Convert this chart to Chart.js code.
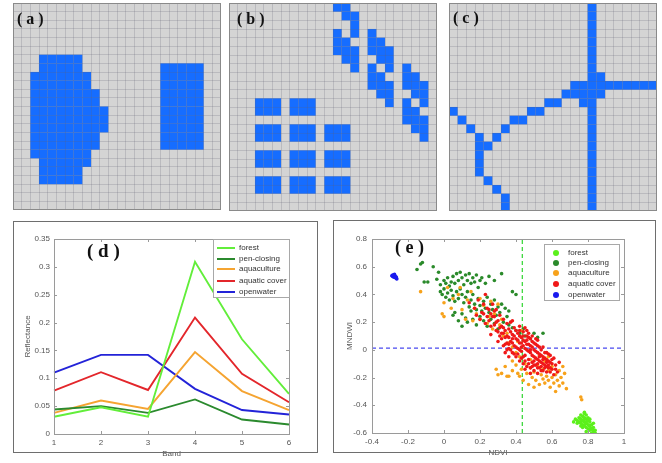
<!DOCTYPE html>
<html>
<head>
<meta charset="utf-8">
<script src="https://cdn.jsdelivr.net/npm/chart.js@4.4.1/dist/chart.umd.min.js"></script>
<style>
  html, body { margin: 0; padding: 0; background: #ffffff; }
  body { width: 662px; height: 463px; position: relative; overflow: hidden; font-family: "Liberation Sans", Arial, sans-serif; }
  canvas { position: absolute; }
  .frame { position: absolute; box-sizing: border-box; border: 1px solid #8a8a8a; pointer-events: none; }
  .outer { position: absolute; box-sizing: border-box; border: 1.5px solid #6e6e6e; pointer-events: none; }
  .plabel { position: absolute; font-family: "Liberation Serif", "Times New Roman", serif; font-weight: bold; color: #111; white-space: pre; line-height: 1; }
  .legend { position: absolute; box-sizing: border-box; border: 1px solid #a8a8a8; background: #fff; }
  .legend .item { position: absolute; font-size: 8px; color: #333; line-height: 8px; white-space: nowrap; }
  .legend .swatch { position: absolute; }
</style>
</head>
<body>
<canvas id="ca" width="208" height="207" style="left:13px;top:3px"></canvas>
<canvas id="cb" width="208" height="208" style="left:229px;top:3px"></canvas>
<canvas id="cc" width="208" height="208" style="left:449px;top:3px"></canvas>
<div class="frame" style="left:13px;top:3px;width:208px;height:207px"></div>
<div class="frame" style="left:229px;top:3px;width:208px;height:208px"></div>
<div class="frame" style="left:449px;top:3px;width:208px;height:208px"></div>
<div class="plabel" style="left:17px;top:11px;font-size:16px">( a )</div>
<div class="plabel" style="left:237px;top:11px;font-size:16px">( b )</div>
<div class="plabel" style="left:453px;top:10px;font-size:16px">( c )</div>

<canvas id="cd" width="304" height="242" style="left:13px;top:221px"></canvas>
<div class="outer" style="left:13px;top:221px;width:305px;height:232px"></div>
<div class="plabel" style="left:87px;top:241px;font-size:19px">( d )</div>
<div class="legend" id="legD" style="left:213px;top:239px;width:77px;height:59px"></div>

<canvas id="ce" width="322" height="243" style="left:333px;top:220px"></canvas>
<div class="outer" style="left:333px;top:220px;width:323px;height:233px"></div>
<div class="plabel" style="left:395px;top:238px;font-size:18px">( e )</div>
<div class="legend" id="legE" style="left:544px;top:244px;width:76px;height:57px"></div>

<script>
// ---------------- DATA ----------------
const GRID_N = 24;
const CELL_BLUE = '#166dff';

// panel (a): [row, firstCol, lastCol]
const panelA = [
  [6,3,7],[7,3,7],[8,2,8],[9,2,8],[10,2,9],[11,2,9],[12,2,10],[13,2,10],[14,2,10],
  [15,2,9],[16,2,9],[17,2,8],[18,3,8],[19,3,7],[20,3,7],
  [7,17,21],[8,17,21],[9,17,21],[10,17,21],[11,17,21],[12,17,21],[13,17,21],[14,17,21],[15,17,21],[16,17,21]
];

// panel (b): [row, firstCol, lastCol]
const panelB = [
  [0,12,13],[1,13,14],[2,14,14],[3,12,12],[3,14,14],[4,12,13],[5,12,14],[6,13,14],[7,14,14],
  [3,16,16],[4,16,17],[5,16,18],[6,17,18],[7,16,16],[7,18,18],[8,16,17],[9,16,18],[10,17,18],[11,18,18],
  [7,20,20],[8,20,21],[9,20,22],[10,21,22],[11,20,20],[11,22,22],[12,20,21],[13,20,22],[14,21,22],[15,22,22],
  [11,3,5],[12,3,5],[11,7,9],[12,7,9],
  [14,3,5],[15,3,5],[14,7,9],[15,7,9],[14,11,13],[15,11,13],
  [17,3,5],[18,3,5],[17,7,9],[18,7,9],[17,11,13],[18,11,13],
  [20,3,5],[21,3,5],[20,7,9],[21,7,9],[20,11,13],[21,11,13]
];

// panel (c): [row, firstCol, lastCol]
const panelC = [
  [0,16,16],[1,16,16],[2,16,16],[3,16,16],[4,16,16],[5,16,16],[6,16,16],[7,16,16],
  [8,16,17],[9,14,23],[10,13,17],[11,11,12],[11,15,16],
  [12,0,0],[12,9,10],[12,16,16],[13,1,1],[13,7,8],[13,16,16],[14,2,2],[14,6,6],[14,16,16],
  [15,3,3],[15,5,5],[15,16,16],[16,3,4],[16,16,16],[17,3,3],[17,16,16],[18,3,3],[18,16,16],
  [19,3,3],[19,16,16],[20,4,4],[20,16,16],[21,5,5],[21,16,16],[22,6,6],[22,16,16],[23,6,6],[23,16,16]
];

// panel (d)
const bands = ['1','2','3','4','5','6'];
const forestRefl      = [0.031, 0.048, 0.031, 0.309, 0.170, 0.072];
const penClosingRefl  = [0.044, 0.050, 0.038, 0.062, 0.026, 0.017];
const aquacultureRefl = [0.038, 0.060, 0.045, 0.147, 0.077, 0.043];
const aquaticRefl     = [0.078, 0.111, 0.079, 0.209, 0.108, 0.057];
const openwaterRefl   = [0.110, 0.142, 0.142, 0.081, 0.043, 0.035];
const classNames = ['forest','pen-closing','aquaculture','aquatic cover','openwater'];
const lineColors = ['#62ee3a','#2b8a2e','#f5a431','#e3262b','#2323d8'];
const dotColors  = ['#5cf01c','#2a8a2a','#f7a21b','#f01818','#1a1aee'];

// panel (e): [NDVI, MNDWI]
const forestPts = [
  [0.73,-0.50],[0.74,-0.51],[0.75,-0.49],[0.75,-0.52],[0.76,-0.50],[0.76,-0.53],[0.77,-0.48],[0.77,-0.51],
  [0.77,-0.54],[0.78,-0.46],[0.78,-0.49],[0.78,-0.52],[0.78,-0.55],[0.79,-0.47],[0.79,-0.50],[0.79,-0.53],
  [0.79,-0.56],[0.80,-0.51],[0.80,-0.54],[0.80,-0.57],[0.81,-0.52],[0.81,-0.55],[0.81,-0.58],[0.82,-0.54],
  [0.82,-0.57],[0.83,-0.56],[0.83,-0.59],[0.84,-0.58],[0.76,-0.47],[0.78,-0.45],[0.74,-0.53],[0.72,-0.52],
  [0.80,-0.49],[0.82,-0.60],[0.84,-0.60],[0.77,-0.56],[0.79,-0.59],[0.76,-0.55],[0.81,-0.50],[0.83,-0.53],
  [0.775,-0.505],[0.785,-0.535],[0.795,-0.515],[0.805,-0.545],[0.815,-0.565],[0.825,-0.575],[0.765,-0.515],[0.755,-0.495]
];
const penClosingPts = [
  [-0.15,0.58],[-0.13,0.62],[-0.12,0.63],[-0.06,0.60],[-0.11,0.49],[-0.09,0.49],[-0.03,0.56],[-0.04,0.51],
  [-0.02,0.47],[0.00,0.50],[0.01,0.48],[0.02,0.52],[0.03,0.46],[0.04,0.49],[0.05,0.53],[0.06,0.48],
  [0.07,0.55],[0.08,0.50],[0.09,0.56],[0.10,0.52],[0.11,0.47],[0.12,0.54],[0.13,0.50],[0.14,0.55],
  [0.15,0.48],[0.16,0.52],[0.17,0.49],[0.18,0.54],[0.19,0.45],[0.20,0.50],[0.21,0.52],[0.23,0.48],
  [0.25,0.53],[0.28,0.50],[0.32,0.55],[0.38,0.42],[0.40,0.40],
  [-0.02,0.42],[-0.01,0.40],[0.00,0.44],[0.01,0.38],[0.02,0.41],[0.03,0.36],[0.04,0.43],[0.05,0.39],
  [0.06,0.35],[0.07,0.42],[0.08,0.37],[0.09,0.44],[0.10,0.40],[0.11,0.34],[0.12,0.38],[0.13,0.42],
  [0.14,0.31],[0.15,0.36],[0.16,0.40],[0.17,0.33],[0.18,0.29],[0.19,0.37],[0.20,0.32],[0.21,0.28],
  [0.22,0.35],[0.23,0.30],[0.24,0.38],[0.25,0.27],[0.26,0.33],[0.27,0.29],[0.28,0.36],[0.29,0.25],
  [0.30,0.31],[0.31,0.27],[0.32,0.33],[0.34,0.30],[0.36,0.28],[0.35,0.24],
  [0.05,0.25],[0.06,0.27],[0.08,0.21],[0.10,0.26],[0.10,0.17],[0.12,0.23],[0.13,0.20],[0.15,0.28],
  [0.16,0.22],[0.18,0.18],[0.20,0.24],[0.22,0.21],[0.24,0.17],[0.26,0.22],[0.28,0.19],[0.30,0.15],
  [0.33,0.20],[0.36,0.18],[0.38,0.16],[0.40,0.14],[0.42,0.12],[0.45,0.10],[0.48,0.08],[0.50,0.12],
  [0.52,0.09],[0.55,0.12],[0.44,0.15]
];
const aquaculturePts = [
  [-0.13,0.42],[-0.01,0.26],[0.00,0.24],[0.00,0.34],[0.02,0.45],[0.04,0.30],[0.05,0.37],[0.08,0.40],
  [0.09,0.45],[0.10,0.29],[0.12,0.22],[0.13,0.36],[0.15,0.42],[0.16,0.21],[0.17,0.30],[0.18,0.26],
  [0.20,0.22],[0.20,0.37],[0.22,0.32],[0.24,0.19],[0.25,0.24],[0.26,0.35],[0.27,0.15],[0.28,0.26],
  [0.30,0.33],[0.31,0.18],[0.32,0.22],[0.33,0.10],[0.35,0.12],[0.36,0.05],[0.38,0.02],[0.40,-0.02],
  [0.41,0.06],[0.43,0.14],[0.42,-0.05],
  [0.30,-0.18],[0.32,-0.17],[0.34,-0.12],[0.35,-0.19],[0.36,-0.19],[0.38,-0.15],[0.40,-0.11],[0.41,-0.17],
  [0.42,-0.19],[0.43,-0.14],[0.44,-0.22],[0.45,-0.10],[0.46,-0.17],[0.47,-0.25],[0.48,-0.13],[0.49,-0.20],
  [0.50,-0.27],[0.50,-0.16],[0.51,-0.22],[0.52,-0.11],[0.53,-0.25],[0.54,-0.18],[0.55,-0.21],[0.55,-0.14],
  [0.56,-0.24],[0.57,-0.19],[0.58,-0.22],[0.58,-0.15],[0.59,-0.27],[0.60,-0.20],[0.60,-0.12],[0.61,-0.24],
  [0.62,-0.18],[0.62,-0.30],[0.63,-0.22],[0.64,-0.15],[0.64,-0.26],[0.65,-0.20],[0.66,-0.12],[0.66,-0.24],
  [0.67,-0.17],[0.68,-0.28],[0.58,-0.05],[0.56,-0.08],[0.53,-0.04],[0.48,-0.07],[0.76,-0.34],[0.765,-0.36],
  [0.38,-0.08],[0.29,-0.14]
];
const aquaticPts = [
  [0.14,0.34],[0.17,0.30],[0.19,0.36],[0.21,0.27],[0.22,0.33],[0.23,0.40],[0.24,0.30],[0.25,0.21],
  [0.26,0.26],[0.27,0.33],[0.28,0.18],[0.28,0.24],[0.29,0.29],[0.30,0.21],[0.30,0.13],[0.31,0.25],
  [0.32,0.17],[0.32,0.08],[0.33,0.22],[0.34,0.14],[0.34,0.04],[0.35,0.19],[0.35,0.10],[0.36,0.01],
  [0.36,0.15],[0.37,0.06],[0.37,0.20],[0.38,0.11],[0.38,-0.02],[0.39,0.03],[0.39,0.16],[0.40,0.08],
  [0.40,-0.05],[0.41,0.12],[0.41,0.01],[0.42,0.05],[0.42,-0.08],[0.43,0.09],[0.43,-0.01],[0.44,0.13],
  [0.44,0.03],[0.44,-0.10],[0.45,0.06],[0.45,-0.04],[0.46,0.10],[0.46,0.00],[0.46,-0.12],[0.47,0.04],
  [0.47,-0.07],[0.48,0.08],[0.48,-0.02],[0.48,-0.13],[0.49,0.02],[0.49,-0.09],[0.50,0.05],[0.50,-0.05],
  [0.50,-0.15],[0.51,-0.01],[0.51,-0.11],[0.52,0.03],[0.52,-0.07],[0.53,-0.03],[0.53,-0.13],[0.54,0.00],
  [0.54,-0.09],[0.55,-0.05],[0.55,-0.15],[0.56,-0.02],[0.56,-0.11],[0.57,-0.07],[0.58,-0.13],[0.58,-0.03],
  [0.59,-0.09],[0.60,-0.14],[0.61,-0.06],[0.62,-0.11],[0.63,-0.16],[0.64,-0.09],
  [0.36,0.09],[0.38,0.05],[0.40,0.14],[0.41,-0.03],[0.42,0.10],[0.43,0.02],[0.44,0.07],[0.45,0.01],
  [0.46,0.04],[0.47,-0.01],[0.47,0.09],[0.48,0.03],[0.49,-0.04],[0.50,0.00],[0.51,0.04],[0.51,-0.06],
  [0.52,-0.02],[0.53,-0.08],[0.53,0.02],[0.54,-0.04],[0.55,-0.10],[0.56,-0.06],[0.57,-0.12],[0.57,-0.02],
  [0.58,-0.08],[0.59,-0.04],[0.60,-0.10],[0.39,0.10],[0.37,0.00],[0.35,0.05],[0.33,0.12],[0.31,0.16],
  [0.29,0.20],[0.27,0.24],[0.26,0.17],[0.24,0.24],[0.23,0.19],[0.20,0.22],[0.18,0.25],[0.26,0.11],
  [0.30,0.06],[0.33,0.03],[0.34,-0.02],[0.36,-0.05],[0.55,0.02],[0.52,0.07],[0.49,0.10],[0.46,0.14],
  [0.42,0.17],[0.38,0.21],[0.48,-0.17],[0.52,-0.17],[0.59,-0.16],[0.61,-0.18],[0.45,0.16],
  [0.40,0.02],[0.41,0.07],[0.42,0.00],[0.43,0.05],[0.44,-0.05],[0.45,-0.08],[0.46,0.07],[0.47,0.12],
  [0.48,0.00],[0.49,0.06],[0.50,-0.08],[0.50,-0.11],[0.51,0.08],[0.52,-0.10],[0.52,-0.13],[0.53,-0.05],
  [0.54,-0.12],[0.54,-0.15],[0.55,-0.07],[0.56,-0.13],[0.57,-0.09],[0.57,-0.16],[0.58,-0.11],[0.59,-0.13],
  [0.60,-0.07],[0.62,-0.14],[0.39,-0.03],[0.38,0.08],[0.37,0.13],[0.36,0.04],[0.35,0.00],[0.34,0.09],
  [0.33,0.16],[0.32,0.12],[0.31,0.10],[0.29,0.14],[0.28,0.28],[0.25,0.29],[0.22,0.26],[0.44,0.10],
  [0.42,0.14],[0.47,-0.10],[0.49,-0.12],[0.45,-0.14],[0.43,-0.06]
];
const openwaterPts = [
  [-0.285,0.530],[-0.280,0.540],[-0.275,0.535],[-0.270,0.520],[-0.265,0.515],[-0.280,0.525],
  [-0.290,0.535],[-0.275,0.545],[-0.270,0.530],[-0.262,0.512],[-0.285,0.540],[-0.265,0.525]
];
const ndviThreshold = 0.435;
const mndwiThreshold = 0.012;

// ---------------- HELPERS ----------------
const SANS = '"Liberation Sans", Arial, sans-serif';
const TXT = '#555';
function spansToCells(spans) {
  const out = [];
  spans.forEach(([r, c0, c1]) => { for (let c = c0; c <= c1; c++) out.push({ x: c + 0.5, y: r + 0.5 }); });
  return out;
}
const bgPlugin = {
  id: 'bg',
  beforeDraw(chart, args, opts) {
    const a = chart.chartArea, ctx = chart.ctx;
    ctx.save(); ctx.fillStyle = opts.color || '#fff';
    ctx.fillRect(a.left, a.top, a.right - a.left, a.bottom - a.top);
    ctx.restore();
  }
};
const boxPlugin = {
  id: 'box',
  afterDraw(chart) {
    const a = chart.chartArea, ctx = chart.ctx;
    ctx.save();
    ctx.strokeStyle = '#9a9a9a'; ctx.lineWidth = 1;
    ctx.strokeRect(Math.round(a.left) + 0.5, Math.round(a.top) + 0.5, Math.round(a.right - a.left), Math.round(a.bottom - a.top));
    const xs = chart.scales.x, ys = chart.scales.y;
    ctx.beginPath();
    xs.ticks.forEach((t, i) => {
      const p = Math.round(xs.getPixelForTick(i)) + 0.5;
      ctx.moveTo(p, a.bottom); ctx.lineTo(p, a.bottom - 3);
      ctx.moveTo(p, a.top); ctx.lineTo(p, a.top + 3);
    });
    ys.ticks.forEach((t, i) => {
      const p = Math.round(ys.getPixelForTick(i)) + 0.5;
      ctx.moveTo(a.left, p); ctx.lineTo(a.left + 3, p);
      ctx.moveTo(a.right, p); ctx.lineTo(a.right - 3, p);
    });
    ctx.stroke();
    ctx.restore();
  }
};

function gridChart(id, spans) {
  const gridScale = (reverse) => ({
    type: 'linear', min: 0, max: GRID_N, reverse,
    ticks: { display: false, stepSize: 1, maxTicksLimit: 200 },
    grid: { color: 'rgba(95,95,115,0.22)', lineWidth: 1, drawTicks: false, z: 1 },
    border: { display: false },
    afterFit: (s) => { if (s.isHorizontal()) s.height = 0; else s.width = 0; }
  });
  new Chart(document.getElementById(id), {
    type: 'scatter',
    data: { datasets: [{ data: spansToCells(spans), pointStyle: 'rect', pointRadius: 6.2,
      backgroundColor: CELL_BLUE, borderWidth: 0, pointHoverRadius: 6.2 }] },
    options: {
      responsive: false, animation: false, events: [],
      layout: { padding: 0, autoPadding: false },
      plugins: { legend: { display: false }, tooltip: { enabled: false }, bg: { color: '#d4d4d4' } },
      scales: { x: gridScale(false), y: gridScale(true) }
    },
    plugins: [bgPlugin]
  });
}
gridChart('ca', panelA);
gridChart('cb', panelB);
gridChart('cc', panelC);

// ---------------- PANEL (d) ----------------
const reflSeries = [forestRefl, penClosingRefl, aquacultureRefl, aquaticRefl, openwaterRefl];
new Chart(document.getElementById('cd'), {
  type: 'line',
  data: {
    labels: bands,
    datasets: reflSeries.map((v, i) => ({
      label: classNames[i], data: v, borderColor: lineColors[i], backgroundColor: lineColors[i],
      borderWidth: 1.9, pointRadius: 0, tension: 0, fill: false
    }))
  },
  options: {
    responsive: false, animation: false, events: [],
    layout: { padding: { top: 18, right: 28, left: 0, bottom: 0 }, autoPadding: false },
    plugins: { legend: { display: false }, tooltip: { enabled: false } },
    scales: {
      x: {
        type: 'category', offset: false,
        grid: { display: false, drawTicks: false }, border: { display: false },
        ticks: { color: TXT, font: { size: 8, family: SANS }, padding: 4, maxRotation: 0 },
        title: { display: true, text: 'Band', color: TXT, font: { size: 8, family: SANS }, padding: { top: 0, bottom: 4 } },
        afterFit: (s) => { s.height = 29; }
      },
      y: {
        type: 'linear', min: 0, max: 0.35,
        grid: { display: false, drawTicks: false }, border: { display: false },
        ticks: { stepSize: 0.05, color: TXT, font: { size: 8, family: SANS }, padding: 4,
          callback: (v) => String(+v.toFixed(2)) },
        title: { display: true, text: 'Reflectance', color: TXT, font: { size: 8, family: SANS }, padding: { top: 10, bottom: 0 } },
        afterFit: (s) => { s.width = 41; }
      }
    }
  },
  plugins: [boxPlugin]
});

// ---------------- PANEL (e) ----------------
const ptSeries = [forestPts, penClosingPts, aquaculturePts, aquaticPts, openwaterPts];
const drawOrder = [2, 4, 3, 1, 2]; // lower order drawn on top
const scatterSets = ptSeries.map((pts, i) => ({
  label: classNames[i], data: pts.map(([x, y]) => ({ x, y })),
  backgroundColor: dotColors[i], borderWidth: 0, pointRadius: 1.8, order: drawOrder[i]
}));
scatterSets.push({
  label: 'ndvi', data: [{ x: ndviThreshold, y: -0.6 }, { x: ndviThreshold, y: 0.8 }],
  showLine: true, borderColor: '#2fd52f', borderWidth: 1.2, borderDash: [4, 3], pointRadius: 0, order: 10
});
scatterSets.push({
  label: 'mndwi', data: [{ x: -0.4, y: mndwiThreshold }, { x: 1, y: mndwiThreshold }],
  showLine: true, borderColor: '#4a4af0', borderWidth: 1.2, borderDash: [4, 3], pointRadius: 0, order: 10
});
const tickFmt = (v) => (Math.abs(v) < 1e-9 ? '0' : String(+v.toFixed(2)));
new Chart(document.getElementById('ce'), {
  type: 'scatter',
  data: { datasets: scatterSets },
  options: {
    responsive: false, animation: false, events: [],
    layout: { padding: { top: 19, right: 31, left: 0, bottom: 0 }, autoPadding: false },
    plugins: { legend: { display: false }, tooltip: { enabled: false } },
    scales: {
      x: {
        type: 'linear', min: -0.4, max: 1,
        grid: { display: false, drawTicks: false }, border: { display: false },
        ticks: { stepSize: 0.2, color: TXT, font: { size: 8, family: SANS }, padding: 4, maxRotation: 0, callback: tickFmt },
        title: { display: true, text: 'NDVI', color: TXT, font: { size: 8, family: SANS }, padding: { top: 0, bottom: 5 } },
        afterFit: (s) => { s.height = 30; }
      },
      y: {
        type: 'linear', min: -0.6, max: 0.8,
        grid: { display: false, drawTicks: false }, border: { display: false },
        ticks: { stepSize: 0.2, color: TXT, font: { size: 8, family: SANS }, padding: 5, callback: tickFmt },
        title: { display: true, text: 'MNDWI', color: TXT, font: { size: 8, family: SANS }, padding: { top: 12, bottom: 0 } },
        afterFit: (s) => { s.width = 39; }
      }
    }
  },
  plugins: [boxPlugin]
});

// ---------------- LEGENDS ----------------
function buildLegend(id, kind, colors, rowTops, swatchLeft, textLeft) {
  const box = document.getElementById(id);
  classNames.forEach((name, i) => {
    const sw = document.createElement('div');
    sw.className = 'swatch';
    if (kind === 'line') {
      sw.style.cssText = `left:${swatchLeft}px;top:${rowTops[i] - 1}px;width:18px;height:2px;background:${colors[i]}`;
    } else {
      sw.style.cssText = `left:${swatchLeft - 3}px;top:${rowTops[i] - 3}px;width:6px;height:6px;border-radius:50%;background:${colors[i]}`;
    }
    box.appendChild(sw);
    const t = document.createElement('div');
    t.className = 'item';
    t.style.left = textLeft + 'px';
    t.style.top = (rowTops[i] - 4) + 'px';
    t.textContent = name;
    box.appendChild(t);
  });
}
buildLegend('legD', 'line', lineColors, [8, 19, 29, 41, 52], 3, 25);
buildLegend('legE', 'dot', dotColors, [8, 18, 28, 39, 50], 11, 23);
</script>
</body>
</html>
